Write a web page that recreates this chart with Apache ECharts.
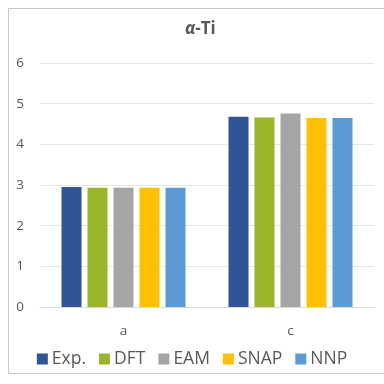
<!DOCTYPE html>
<html><head><meta charset="utf-8">
<script src="https://cdn.jsdelivr.net/npm/echarts@6/dist/echarts.min.js"></script>
<style>html,body{margin:0;padding:0;background:#fff}#c{width:384px;height:384px}</style>
</head><body><div id="c"></div>
<script>
const categories = ['a', 'c'];
const seriesNames = ['Exp.', 'DFT', 'EAM', 'SNAP', 'NNP'];
const expVals = [2.95, 4.68];
const dftVals = [2.93, 4.66];
const eamVals = [2.93, 4.76];
const snapVals = [2.93, 4.65];
const nnpVals = [2.93, 4.65];
const yTicks = [0, 1, 2, 3, 4, 5, 6];
const colors = ['#2F5597', '#9BB529', '#A5A5A5', '#FFC000', '#5B9BD5'];
const allVals = [expVals, dftVals, eamVals, snapVals, nnpVals];

const font = 'Open Sans';
const chart = echarts.init(document.getElementById('c'));
chart.setOption({
  animation: false,
  graphic: [{type: 'rect', shape: {x: 8.5, y: 8.5, width: 400, height: 365}, style: {fill: 'none', stroke: '#C8C8C8', lineWidth: 1}}],
  title: {
    text: '{i|α}-Ti', left: 180, top: 16,
    textStyle: {
      fontFamily: font, fontSize: 17, fontWeight: 'bold', color: '#595959',
      rich: {i: {fontFamily: font, fontSize: 17, fontStyle: 'italic', fontWeight: 'bold', color: '#595959'}}
    }
  },
  legend: {
    data: seriesNames, bottom: 11, left: 'center', itemWidth: 11, itemHeight: 11, itemGap: 13,
    icon: 'rect',
    textStyle: {fontFamily: font, fontSize: 17.5, color: '#595959', padding: [0, 0, 0, -1]}
  },
  grid: {left: 40, right: 10, top: 63, bottom: 77},
  xAxis: {
    type: 'category', data: categories,
    axisLine: {lineStyle: {color: '#D9D9D9'}}, axisTick: {show: false},
    axisLabel: {fontFamily: font, fontSize: 13.5, color: '#595959', margin: 17}
  },
  yAxis: {
    type: 'value', min: yTicks[0], max: yTicks[yTicks.length - 1], interval: 1,
    axisLine: {show: false}, axisTick: {show: false},
    axisLabel: {fontFamily: font, fontSize: 13.5, color: '#595959', margin: 16},
    splitLine: {lineStyle: {color: '#E6E6E6'}}
  },
  series: seriesNames.map((n, i) => ({
    name: n, type: 'bar', data: allVals[i], barWidth: 20, barGap: '30%', barCategoryGap: '25%',
    itemStyle: {color: colors[i]}
  }))
});
</script></body></html>
